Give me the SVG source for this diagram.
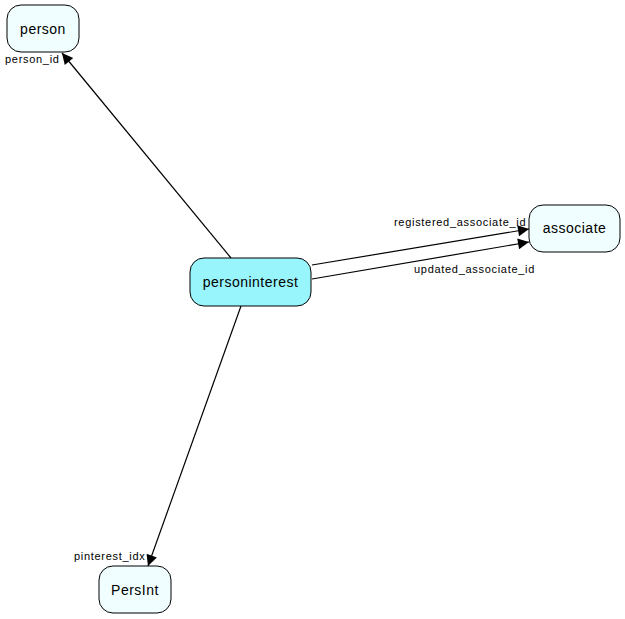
<svg xmlns="http://www.w3.org/2000/svg" width="625" height="619" viewBox="0 0 625 619">
<style>
.node rect{fill:#f0feff;stroke:#000;stroke-width:1}
.main rect{fill:#99f5fc}
.nt{font-family:"Liberation Sans",Arial,sans-serif;font-size:14px;letter-spacing:0.5px;text-anchor:middle;fill:#000}
.lbl{font-family:"Liberation Sans",Arial,sans-serif;font-size:11px;letter-spacing:0.7px;fill:#000}
.edge{stroke:#000;stroke-width:1.2;fill:none;marker-end:url(#arr)}
</style>
<defs>
<marker id="arr" viewBox="0 0 10 10" refX="10" refY="5" markerWidth="15" markerHeight="11" markerUnits="userSpaceOnUse" orient="auto">
<path d="M0,0L10,5L0,10z" fill="#000"/>
</marker>
</defs>
<rect width="625" height="619" fill="#fff"/>
<g id="connectors">
<path class="edge" d="M231,258L62,53"/>
<path class="edge" d="M312,265L529,229"/>
<path class="edge" d="M312,279L529,242"/>
<path class="edge" d="M241,306L148,566"/>
<text class="lbl" x="5" y="63">person_id</text>
<text class="lbl" x="394" y="226">registered_associate_id</text>
<text class="lbl" x="414" y="273">updated_associate_id</text>
<text class="lbl" x="74" y="560">pinterest_idx</text>
</g>
<g id="person" class="node"><rect x="7" y="5" width="72" height="47" rx="14"/><text class="nt" x="43" y="34">person</text></g>
<g id="associate" class="node"><rect x="529" y="205" width="91" height="47" rx="14"/><text class="nt" x="574.5" y="233">associate</text></g>
<g id="personinterest" class="node main"><rect x="190" y="258" width="121" height="48" rx="14"/><text class="nt" x="250.5" y="287">personinterest</text></g>
<g id="PersInt" class="node"><rect x="99" y="566" width="72" height="47" rx="14"/><text class="nt" x="135" y="595">PersInt</text></g>
</svg>
